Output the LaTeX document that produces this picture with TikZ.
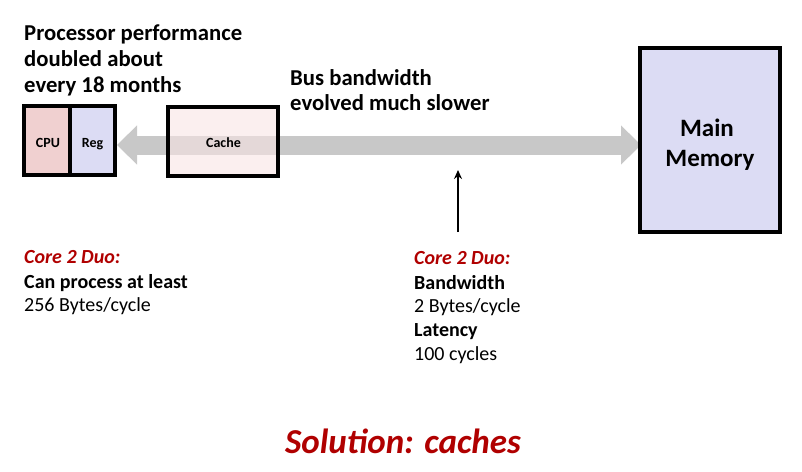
\documentclass[tikz,border=0pt]{standalone}
\usepackage{fontspec}
\setmainfont{Carlito}
\usetikzlibrary{arrows.meta}
\definecolor{cpufill}{HTML}{F0D0D0}
\definecolor{regfill}{HTML}{DCDCF4}
\definecolor{cachefill}{HTML}{F8E4E4}
\definecolor{memfill}{HTML}{DCDCF4}
\definecolor{busgray}{HTML}{C8C8C8}
\definecolor{darkred}{HTML}{B00000}
\tikzset{
  box/.style={draw=black, line width=3.6pt},
  lbl/.style={anchor=base west, inner sep=0pt},
  big/.style={lbl, font=\fontsize{22.7}{22.7}\selectfont\bfseries},
  mid/.style={lbl, font=\fontsize{20}{20}\selectfont},
  midb/.style={lbl, font=\fontsize{20}{20}\selectfont\bfseries},
  core/.style={lbl, font=\fontsize{20}{20}\selectfont\bfseries\itshape, text=darkred},
  small/.style={font=\fontsize{14}{14}\selectfont\bfseries, anchor=base, inner sep=0pt},
}
\begin{document}
\begin{tikzpicture}[x=1pt,y=-1pt]
\useasboundingbox (0,0) rectangle (802,471);
% gray bus arrow
\coordinate (busL) at (117,145);
\coordinate (busR) at (641,145);
\draw[busgray, line width=19pt, {Triangle[length=20pt,width=38pt]}-{Triangle[length=20pt,width=38pt]}] (busL) -- (busR);
% CPU / Reg
\path[fill=cpufill] (24,106) rectangle (70,175);
\path[fill=regfill] (70,106) rectangle (115,175);
\node[box, minimum width=91pt, minimum height=69pt, inner sep=0pt] (cpureg) at (69.5,140.5) {};
\draw[line width=3.6pt] (70,106) -- (70,175);
\node[small] (cpu) at (48,147) {CPU};
\node[small] (reg) at (92.5,147) {Reg};
% Cache
\node[box, fill=cachefill, fill opacity=0.6, draw opacity=1, minimum width=110pt, minimum height=69pt, inner sep=0pt] (cache) at (223,141.5) {};
\node[small] (cachelbl) at (223.5,147) {Cache};
% Main memory
\node[box, fill=memfill, minimum width=140pt, minimum height=184pt, inner sep=0pt] (mem) at (710,140) {};
\node[font=\fontsize{25}{25}\selectfont\bfseries, anchor=base, inner sep=0pt] (m1) at (707,136) {Main};
\node[font=\fontsize{25}{25}\selectfont\bfseries, anchor=base, inner sep=0pt] (m2) at (710,166) {Memory};
% black arrow
\coordinate (arrbot) at (458,232);
\coordinate (arrtop) at (458,170);
\draw[line width=1.8pt, -{Stealth[length=9pt,width=8pt]}] (arrbot) -- (arrtop);
% texts
\node[big] (p1) at (24,40) {Processor performance};
\node[big] (p2) at (24,66) {doubled about};
\node[big] (p3) at (24,92) {every 18 months};
\node[big] (b1) at (290,85) {Bus bandwidth};
\node[big] (b2) at (290,110) {evolved much slower};
\node[core] (c1) at (24,263) {Core 2 Duo:};
\node[midb] (c2) at (24,288) {Can process at least};
\node[mid] (c3) at (24,311) {256 Bytes/cycle};
\node[core] (d1) at (414,264) {Core 2 Duo:};
\node[midb] (d2) at (414,289) {Bandwidth};
\node[mid] (d3) at (414,312) {2 Bytes/cycle};
\node[midb] (d4) at (414,336) {Latency};
\node[mid] (d5) at (414,360) {100 cycles};
\node[font=\fontsize{35}{35}\selectfont\bfseries\itshape, text=darkred, anchor=base, inner sep=0pt] (sol) at (403,453) {Solution: caches};
\end{tikzpicture}
\end{document}
